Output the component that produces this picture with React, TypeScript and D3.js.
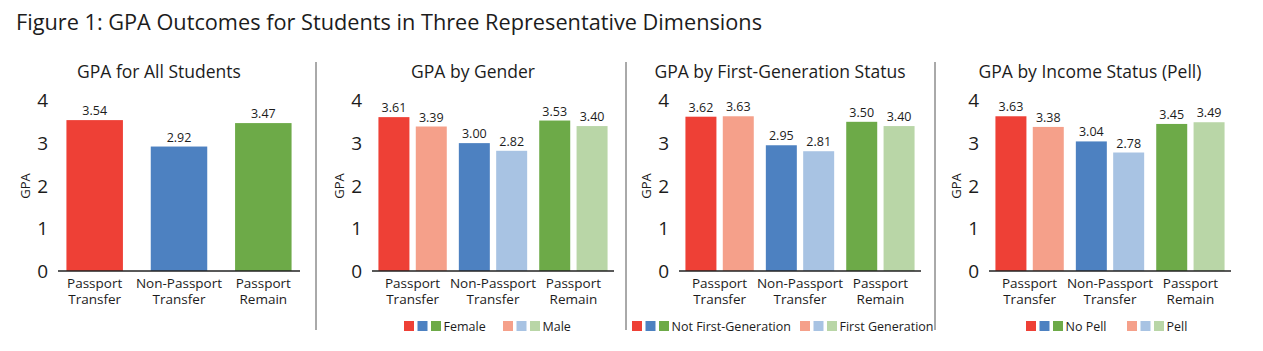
import React from "react";
import * as d3 from "d3";

const categories = [
  ["Passport", "Transfer"],
  ["Non-Passport", "Transfer"],
  ["Passport", "Remain"],
];
const yTicks = [0, 1, 2, 3, 4];

const allStudents = [3.54, 2.92, 3.47];
const genderFemale = [3.61, 3.0, 3.53];
const genderMale = [3.39, 2.82, 3.4];
const firstGenNot = [3.62, 2.95, 3.5];
const firstGenYes = [3.63, 2.81, 3.4];
const pellNo = [3.63, 3.04, 3.45];
const pellYes = [3.38, 2.78, 3.49];

const darkColors = ["#ee4036", "#4d81c1", "#6daa48"];
const lightColors = ["#f5a08a", "#a8c3e3", "#b9d6a7"];

const panels = [
  { title: "GPA for All Students", series: [allStudents], legend: null },
  { title: "GPA by Gender", series: [genderFemale, genderMale], legend: ["Female", "Male"] },
  { title: "GPA by First-Generation Status", series: [firstGenNot, firstGenYes], legend: ["Not First-Generation", "First Generation"] },
  { title: "GPA by Income Status (Pell)", series: [pellNo, pellYes], legend: ["No Pell", "Pell"] },
];

const panelX = [0, 314, 621, 931];
const legendX = [[0, 0], [90, 189], [11, 179], [95, 196]];
const separators = [316, 626, 935];
const font = "'Open Sans', sans-serif";
const textColor = "#1c1c1c";

const y = d3.scaleLinear().domain([0, 4]).range([271, 100.5]);

function Panel({ idx }: { idx: number }) {
  const p = panels[idx];
  const x0 = d3.scaleBand<number>().domain([0, 1, 2]).range([58, 300]);
  if (p.series.length === 1) x0.paddingInner(0.33).paddingOuter(0.1);
  else x0.paddingInner(0.15).paddingOuter(0.08);
  const x1 = d3
    .scaleBand<number>()
    .domain(d3.range(p.series.length))
    .range([0, x0.bandwidth()])
    .paddingInner(p.series.length === 1 ? 0 : 0.17);
  const colorsFor = (s: number) => (s === 0 ? darkColors : lightColors);

  return (
    <g transform={`translate(${panelX[idx]},0)`} fontFamily={font} fill={textColor}>
      <text x={159} y={78} textAnchor="middle" fontSize={17.5}>
        {p.title}
      </text>
      <text transform="translate(30,186) rotate(-90)" textAnchor="middle" fontSize={13}>
        GPA
      </text>
      {yTicks.map((t) => (
        <text key={t} x={48} y={y(t)} dy="0.36em" textAnchor="end" fontSize={19}>
          {t}
        </text>
      ))}
      {p.series.map((vals, s) =>
        vals.map((v, c) => {
          const bx = (x0(c) as number) + (x1(s) as number);
          return (
            <g key={`${s}-${c}`}>
              <rect x={bx} y={y(v)} width={x1.bandwidth()} height={y(0) - y(v)} fill={colorsFor(s)[c]} />
              <text x={bx + x1.bandwidth() / 2} y={y(v) - 5} textAnchor="middle" fontSize={12.5}>
                {v.toFixed(2)}
              </text>
            </g>
          );
        })
      )}
      <line x1={58} x2={300} y1={y(0)} y2={y(0)} stroke="#222" strokeWidth={1.3} />
      {categories.map((lines, c) =>
        lines.map((l, i) => (
          <text
            key={`${c}-${i}`}
            x={(x0(c) as number) + x0.bandwidth() / 2}
            y={288 + i * 16}
            textAnchor="middle"
            fontSize={13.5}
          >
            {l}
          </text>
        ))
      )}
      {p.legend &&
        p.legend.map((name, s) => (
          <g key={name} transform={`translate(${legendX[idx][s]},321)`}>
            {colorsFor(s).map((col, k) => (
              <rect key={k} x={k * 13.5} y={0} width={10} height={10} fill={col} />
            ))}
            <text x={3 * 13.5 - 1} y={5} dy="0.36em" fontSize={12.5}>
              {name}
            </text>
          </g>
        ))}
    </g>
  );
}

export default function App() {
  return (
    <svg
      width={1263}
      height={351}
      style={{ position: "absolute", left: 0, top: 0, background: "#fff" }}
    >
      <text
        x={16}
        y={30}
        fontFamily={font}
        fontSize={22}
        fill={textColor}
        textLength={746}
        lengthAdjust="spacingAndGlyphs"
      >
        Figure 1: GPA Outcomes for Students in Three Representative Dimensions
      </text>
      {separators.map((sx) => (
        <line key={sx} x1={sx} x2={sx} y1={62} y2={330} stroke="#555" strokeWidth={1} />
      ))}
      {panels.map((_, i) => (
        <Panel key={i} idx={i} />
      ))}
    </svg>
  );
}
